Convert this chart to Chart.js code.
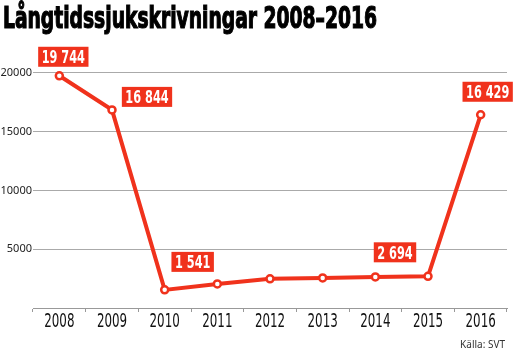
<!DOCTYPE html>
<html>
<head>
<meta charset="utf-8">
<script src="https://cdn.jsdelivr.net/npm/chart.js"></script>
<style>
  html, body { margin: 0; padding: 0; background: #fff; }
  #wrap { width: 515px; height: 351px; position: relative; }
</style>
</head>
<body>
<div id="wrap"><canvas id="c" width="515" height="351"></canvas></div>
<script>
const years = ['2008', '2009', '2010', '2011', '2012', '2013', '2014', '2015', '2016'];
const sickLeave = [19744, 16844, 1541, 2050, 2480, 2560, 2640, 2694, 16429];
const yTicks = [5000, 10000, 15000, 20000];
// which points get a red value box, and where it sits relative to the point
const labelled = [
    { idx: 0, text: '19 744', dx: 4, dy: -19 },
    { idx: 1, text: '16 844', dx: 35, dy: -13 },
    { idx: 2, text: '1 541', dx: 28, dy: -28 },
    { idx: 7, text: '2 694', dx: -33, dy: -24 },
    { idx: 8, text: '16 429', dx: 7, dy: -23 }
];

const RED = '#f0321c';
const condensed = '"DejaVu Sans Condensed", "DejaVu Sans", sans-serif';

// draw text squeezed horizontally, like the narrow newspaper font
function narrowText(ctx, text, x, y, sx, stroke) {
    ctx.save();
    ctx.translate(x, y);
    ctx.scale(sx, 1);
    if (stroke) ctx.strokeText(text, 0, 0);
    ctx.fillText(text, 0, 0);
    ctx.restore();
}

const decorPlugin = {
    id: 'decor',
    afterDraw(chart) {
        const ctx = chart.ctx;
        ctx.save();
        // title, squeezed to the width of the original
        ctx.fillStyle = '#000';
        ctx.strokeStyle = '#000';
        ctx.lineWidth = 1.2;
        ctx.font = 'bold 30px ' + condensed;
        ctx.textBaseline = 'alphabetic';
        ctx.textAlign = 'left';
        const title = 'Långtidssjukskrivningar 2008–2016';
        narrowText(ctx, title, 3, 28, 374 / ctx.measureText(title).width, true);

        // year labels
        const xs = chart.scales.x;
        ctx.font = '20px ' + condensed;
        ctx.textAlign = 'center';
        ctx.fillStyle = '#111';
        years.forEach((y, i) => narrowText(ctx, y, xs.getPixelForValue(i), 327, 0.66));

        // value boxes
        const meta = chart.getDatasetMeta(0);
        ctx.font = 'bold 17px ' + condensed;
        labelled.forEach(l => {
            const pt = meta.data[l.idx];
            const cx = pt.x + l.dx, cy = pt.y + l.dy;
            const w = ctx.measureText(l.text).width * 0.74 + 7;
            const h = 20;
            ctx.fillStyle = RED;
            ctx.fillRect(cx - w / 2, cy - h / 2, w, h);
            ctx.fillStyle = '#fff';
            narrowText(ctx, l.text, cx, cy + 6.5, 0.74);
        });

        // source
        ctx.fillStyle = '#333';
        ctx.font = '10px "Noto Sans", sans-serif';
        ctx.textAlign = 'right';
        ctx.fillText('Källa: SVT', 505, 348);
        ctx.restore();
    }
};

new Chart(document.getElementById('c'), {
    type: 'line',
    data: {
        labels: years,
        datasets: [{
            data: sickLeave,
            borderColor: RED,
            borderWidth: 4,
            tension: 0,
            pointRadius: 3.5,
            pointBorderWidth: 2.5,
            pointBackgroundColor: '#fff',
            pointBorderColor: RED,
            clip: false
        }]
    },
    options: {
        responsive: false,
        animation: false,
        devicePixelRatio: 1,
        layout: { padding: { top: 61, right: 8, left: 0, bottom: 0 } },
        plugins: { legend: { display: false }, tooltip: { enabled: false } },
        scales: {
            x: {
                offset: true,
                grid: { display: true, offset: true, drawOnChartArea: false, drawTicks: true, tickLength: 4, color: '#999' },
                border: { display: true, color: '#999', width: 1 },
                ticks: { color: 'rgba(0,0,0,0)', font: { size: 12 }, maxRotation: 0 },
                afterFit(scale) { scale.height = 43; }
            },
            y: {
                min: 0,
                max: 21000,
                afterBuildTicks(scale) { scale.ticks = yTicks.map(v => ({ value: v })); },
                grid: { color: '#aaa', drawTicks: false },
                border: { display: false },
                ticks: {
                    color: '#222',
                    font: { family: '"Noto Sans", sans-serif', size: 11 },
                    padding: 1,
                    callback: v => String(v)
                },
                afterFit(scale) { scale.width = 33; }
            }
        }
    },
    plugins: [decorPlugin]
});
</script>
</body>
</html>
